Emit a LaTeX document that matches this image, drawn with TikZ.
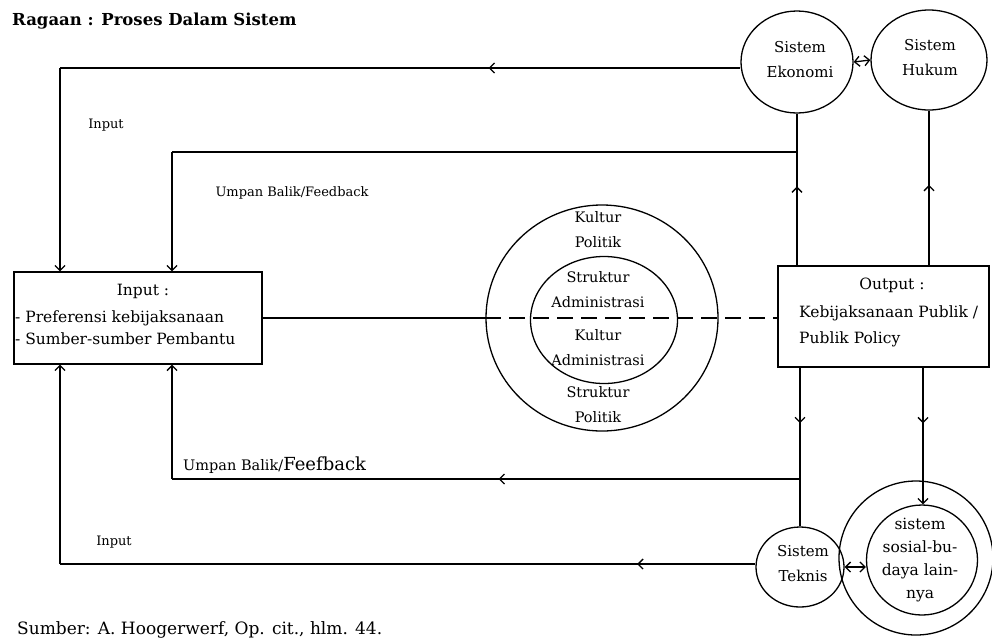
\documentclass[tikz,border=0pt]{standalone}
\usepackage{fontspec}
\setmainfont{DejaVu Serif}
\usetikzlibrary{arrows.meta,decorations.markings,shapes.geometric}

\tikzset{
  barb/.tip={Straight Barb[length=5pt,width=10pt]},
  ln/.style={line width=1.3pt},
  ring/.style={draw, ellipse, line width=1.3pt, inner sep=0pt},
  boxs/.style={draw, rectangle, line width=1.3pt, inner sep=0pt},
  midtip/.style={postaction={decorate},
    decoration={markings, mark=at position #1 with {\arrow{barb}}}},
  captxt/.style={font=\fontsize{14.5}{25}\selectfont, align=center, inner sep=0pt},
  lbl/.style={font=\fontsize{13}{15}\selectfont, inner sep=0pt},
  boxtxt/.style={font=\fontsize{15.5}{18}\selectfont, inner sep=0pt},
}

\begin{document}
\begin{tikzpicture}[x=1pt,y=-1pt]
\useasboundingbox (0,0) rectangle (992,638);
\fill[white] (0,0) rectangle (992,638);

% title
\node[anchor=base west, font=\bfseries\fontsize{16.5}{19}\selectfont, inner sep=0pt]
  (title) at (12,25) {Ragaan : Proses Dalam Sistem};

% surrounding systems
\node[ring, minimum width=112pt, minimum height=102pt] (ekonomi) at (797,62) {};
\node[ring, minimum width=116pt, minimum height=100pt] (hukum) at (929,60) {};
\node[ring, minimum width=88pt, minimum height=80pt] (teknis) at (800,567) {};
\node[ring, minimum width=154pt, minimum height=154pt] (sosout) at (916,558) {};
\node[ring, minimum width=111pt, minimum height=110pt] (sosin) at (922,560) {};

\node[captxt, font=\fontsize{15}{25}\selectfont] (ekonomitxt) at (800,60) {Sistem\\Ekonomi};
\node[captxt, font=\fontsize{15}{25}\selectfont] (hukumtxt) at (930,58) {Sistem\\Hukum};
\node[captxt, font=\fontsize{15}{25}\selectfont] (teknistxt) at (803,564) {Sistem\\Teknis};
\node[captxt, font=\fontsize{15.5}{23}\selectfont] (sosintxt) at (920,560)
  {sistem\\sosial-bu-\\daya lain-\\nya};

% political system in the middle
\node[ring, minimum width=232pt, minimum height=226pt] (polout) at (602,318) {};
\node[ring, minimum width=147pt, minimum height=127pt] (polin) at (604,320) {};
\node[captxt] (kp) at (598,230) {Kultur\\Politik};
\node[captxt] (sa) at (598,290) {Struktur\\Administrasi};
\node[captxt] (ka) at (598,348) {Kultur\\Administrasi};
\node[captxt] (sp) at (598,405) {Struktur\\Politik};

% input and output boxes
\node[boxs, minimum width=248pt, minimum height=92pt] (inbox) at (138,318) {};
\node[boxtxt] (inhead) at (143,291) {Input :};
\node[boxtxt, anchor=base west] (in1) at (15,322) {- Preferensi kebijaksanaan};
\node[boxtxt, anchor=base west] (in2) at (15,344) {- Sumber-sumber Pembantu};

\node[boxs, minimum width=211pt, minimum height=101pt] (outbox) at (883.5,316.5) {};
\node[boxtxt] (outhead) at (892,285) {Output :};
\node[boxtxt, anchor=base west] (out1) at (799,317) {Kebijaksanaan Publik /};
\node[boxtxt, anchor=base west] (out2) at (799,343) {Publik Policy};

% junction points
\coordinate (tl) at (60,68);
\coordinate (fbt) at (797,152);
\coordinate (fbl) at (172,152);
\coordinate (fbb) at (800,479);
\coordinate (fbbl) at (172,479);
\coordinate (bl) at (60,564);
\coordinate (rl) at (923,367);

% input from the economic system
\draw[ln, midtip=0.37] (tl -| ekonomi.west) -- (tl);
\draw[ln, -barb] (tl) -- (tl |- inbox.north);

% upper feedback
\draw[ln, midtip=0.52] (ekonomi.south |- outbox.north) -- (ekonomi.south);
\draw[ln] (fbt) -- (fbl);
\draw[ln, -barb] (fbl) -- (fbl |- inbox.north);

% output to the legal system
\draw[ln, midtip=0.52] (hukum.south |- outbox.north) -- (hukum.south);
\draw[ln, barb-barb] (ekonomi.east) -- (hukum.west);

% lower feedback and output to the technical system
\draw[ln, midtip=0.35] (teknis.north |- outbox.south) -- (teknis.north);
\draw[ln, midtip=0.48] (fbb) -- (fbbl);
\draw[ln, -barb] (fbbl) -- (fbbl |- inbox.south);

% output to the socio-cultural system
\draw[ln, midtip=0.41, -barb] (rl) -- (rl |- sosin.north);
\draw[ln, barb-barb] (teknis.east) -- (teknis.east -| sosin.west);

% input from the technical system
\draw[ln, midtip=0.17] (bl -| teknis.west) -- (bl);
\draw[ln, -barb] (bl) -- (bl |- inbox.south);

% link from input box through the political system to the output box
\draw[ln] (inbox.east) -- (inbox.east -| polout.west);
\draw[ln, dash pattern=on 16pt off 8pt] (inbox.east -| polout.west) -- (inbox.east -| outbox.west);

% labels
\node[lbl] (inlbl1) at (106,125) {Input};
\node[lbl] (fblbl1) at (292,193) {Umpan Balik/Feedback};
\node[lbl, anchor=base west] (fblbl2) at (183,470)
  {\fontsize{14.5}{16}\selectfont Umpan Balik/\fontsize{18}{20}\selectfont Feefback};
\node[lbl] (inlbl2) at (114,542) {Input};

% source line
\node[anchor=base west, font=\fontsize{17}{19}\selectfont, inner sep=0pt]
  (src) at (17,634) {Sumber: A. Hoogerwerf, Op. cit., hlm. 44.};
\end{tikzpicture}
\end{document}
